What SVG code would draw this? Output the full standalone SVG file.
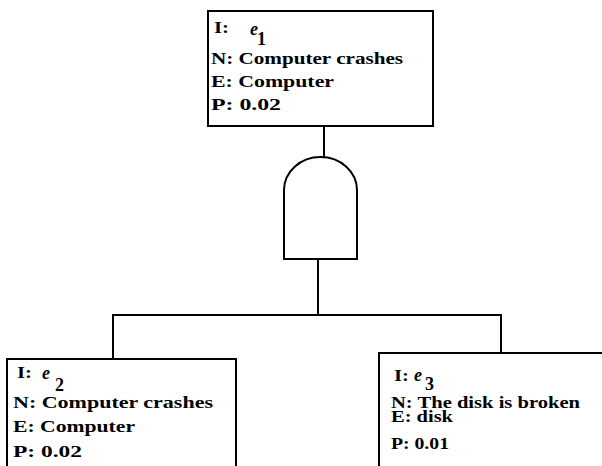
<svg xmlns="http://www.w3.org/2000/svg" width="602" height="466" viewBox="0 0 602 466">
<style>
.box{fill:#fff;stroke:#000;stroke-width:2}
.ln{fill:none;stroke:#000;stroke-width:2}
text{font-family:"Liberation Serif","Times New Roman",serif;font-size:16px;font-weight:bold;fill:#000}
.it{font-style:italic;font-size:18px}
.sub{font-size:18px}
</style>
<rect width="602" height="466" fill="#fff"/>
<g id="connectors">
<line class="ln" x1="324" y1="126" x2="324" y2="157"/>
<line class="ln" x1="318" y1="259" x2="318" y2="315"/>
<polyline class="ln" points="113,359 113,315 501,315 501,353"/>
</g>
<g id="gate">
<path class="ln" d="M284,259 L284,190 A36.5,33 0 0 1 357,190 L357,259 Z"/>
</g>
<g id="e1">
<rect class="box" x="208" y="11" width="225" height="115"/>
<text x="214" y="33" textLength="15" lengthAdjust="spacingAndGlyphs">I:</text>
<text class="it" x="250" y="35">e</text>
<text class="sub" x="257" y="45">1</text>
<text x="211" y="64" textLength="192" lengthAdjust="spacingAndGlyphs">N: Computer crashes</text>
<text x="211" y="87" textLength="123" lengthAdjust="spacingAndGlyphs">E: Computer</text>
<text x="211" y="110" textLength="70" lengthAdjust="spacingAndGlyphs">P: 0.02</text>
</g>
<g id="e2">
<rect class="box" x="7" y="359" width="229" height="115"/>
<text x="17" y="378" textLength="15" lengthAdjust="spacingAndGlyphs">I:</text>
<text class="it" x="42" y="379">e</text>
<text class="sub" x="55" y="391">2</text>
<text x="13" y="408" textLength="200" lengthAdjust="spacingAndGlyphs">N: Computer crashes</text>
<text x="13" y="432" textLength="122" lengthAdjust="spacingAndGlyphs">E: Computer</text>
<text x="13" y="457" textLength="69" lengthAdjust="spacingAndGlyphs">P: 0.02</text>
</g>
<g id="e3">
<rect class="box" x="379" y="353" width="240" height="120"/>
<text x="394" y="381" textLength="15" lengthAdjust="spacingAndGlyphs">I:</text>
<text class="it" x="414" y="381">e</text>
<text class="sub" x="425" y="390">3</text>
<text x="391" y="408" textLength="189" lengthAdjust="spacingAndGlyphs">N: The disk is broken</text>
<text x="391" y="422" textLength="62" lengthAdjust="spacingAndGlyphs">E: disk</text>
<text x="391" y="449" textLength="58" lengthAdjust="spacingAndGlyphs">P: 0.01</text>
</g>
</svg>
